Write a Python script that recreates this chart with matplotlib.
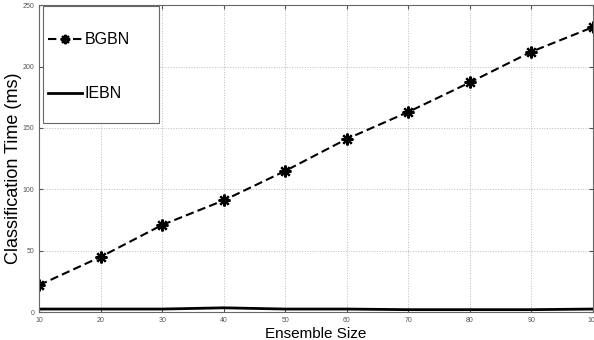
import matplotlib
matplotlib.use("Agg")
import matplotlib.pyplot as plt
from matplotlib.patches import Rectangle

plt.rcParams['font.family'] = ['Liberation Sans', 'DejaVu Sans']

ensemble_size = [10, 20, 30, 40, 50, 60, 70, 80, 90, 100]
bgbn = [22, 45, 71, 91, 115, 141, 163, 187, 212, 232]
iebn = [2.5, 2.5, 2.5, 3.5, 2.5, 2.5, 2, 2, 2, 2.5]
xticks = [10, 20, 30, 40, 50, 60, 70, 80, 90, 100]
yticks = [0, 50, 100, 150, 200, 250]

fig = plt.figure(figsize=(5.94, 3.4), dpi=100)
ax = fig.add_axes([0.066, 0.082, 0.932, 0.903])

ax.plot(ensemble_size, bgbn, linestyle='--', color='black', linewidth=1.5,
        marker=(8, 2, 0), markersize=8.5, markeredgewidth=1.6, label='BGBN', dashes=(4, 2))
ax.plot(ensemble_size, iebn, linestyle='-', color='black', linewidth=2.0, label='IEBN')

ax.set_xlim(10, 100)
ax.set_ylim(0, 250)
ax.set_xticks(xticks)
ax.set_yticks(yticks)
ax.tick_params(axis='both', direction='in', labelsize=5, colors='#555555', length=3)
ax.tick_params(top=True, right=True)
ax.grid(True, linestyle=':', color='#bbbbbb', linewidth=0.7)
for s in ax.spines.values():
    s.set_color('#666666')
    s.set_linewidth(0.8)

ax.set_xlabel('Ensemble Size', fontsize=11, labelpad=2)
ax.set_ylabel('Classification Time (ms)', fontsize=13)
ax.yaxis.set_label_coords(-0.031, 0.469)

# legend box
ax.add_patch(Rectangle((0.0072, 0.6156), 0.2094, 0.3811, transform=ax.transAxes,
                       facecolor='white', edgecolor='#666666', linewidth=0.8, zorder=5))
leg = ax.legend(loc='upper left', bbox_to_anchor=(0.016, 0.912), fontsize=11.5,
                frameon=False, borderpad=0, labelspacing=2.45, markerscale=0.8,
                handlelength=2.1, handletextpad=0.2, borderaxespad=0)
leg.set_zorder(6)

fig.savefig('out.png', dpi=100)
